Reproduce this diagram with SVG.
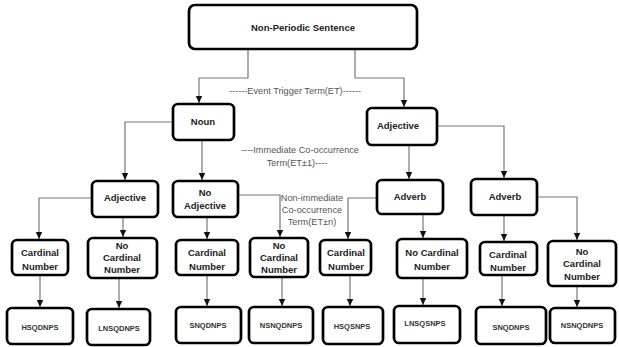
<svg xmlns="http://www.w3.org/2000/svg" width="619" height="347" viewBox="0 0 619 347">
<style>
.box{fill:#fff;stroke:#000;stroke-width:2.7}
.lbl{font-family:"Liberation Sans",Arial,sans-serif;font-weight:bold;font-size:9.5px;fill:#222;text-anchor:middle}
.leaf{font-family:"Liberation Sans",Arial,sans-serif;font-weight:bold;font-size:7.5px;fill:#333;text-anchor:middle}
.note{font-family:"Liberation Sans",Arial,sans-serif;font-size:9.2px;fill:#555;text-anchor:middle}
.con{fill:none;stroke:#777;stroke-width:1.2}
</style>
<defs>
<marker id="arr" markerUnits="userSpaceOnUse" markerWidth="8" markerHeight="8" refX="7" refY="4" orient="auto">
<path d="M0,0.8 L7,4 L0,7.2 Z" fill="#111"/>
</marker>
</defs>
<rect width="619" height="347" fill="#fff"/>
<g id="connectors">
<path class="con" marker-end="url(#arr)" d="M248 49 V78 H199 V103"/>
<path class="con" marker-end="url(#arr)" d="M355 49 V78 H404 V107"/>
<path class="con" marker-end="url(#arr)" d="M173 122 H125 V180"/>
<path class="con" marker-end="url(#arr)" d="M202 140 V180"/>
<path class="con" marker-end="url(#arr)" d="M409 145 V179"/>
<path class="con" marker-end="url(#arr)" d="M437 126 H504 V178"/>
<path class="con" marker-end="url(#arr)" d="M92 198 H39 V239"/>
<path class="con" marker-end="url(#arr)" d="M123 217 V237"/>
<path class="con" marker-end="url(#arr)" d="M207 217 V239"/>
<path class="con" marker-end="url(#arr)" d="M238 195 H280 V237"/>
<path class="con" marker-end="url(#arr)" d="M377 198 H348 V239"/>
<path class="con" marker-end="url(#arr)" d="M423 214 V238"/>
<path class="con" marker-end="url(#arr)" d="M504 215 V241"/>
<path class="con" marker-end="url(#arr)" d="M537 197 H577 V240"/>
<path class="con" marker-end="url(#arr)" d="M40 275 V307"/>
<path class="con" marker-end="url(#arr)" d="M119 278 V308"/>
<path class="con" marker-end="url(#arr)" d="M207 275 V306"/>
<path class="con" marker-end="url(#arr)" d="M282 277 V306"/>
<path class="con" marker-end="url(#arr)" d="M350 275 V306"/>
<path class="con" marker-end="url(#arr)" d="M423 278 V305"/>
<path class="con" marker-end="url(#arr)" d="M502 275 V306"/>
<path class="con" marker-end="url(#arr)" d="M577 286 V307"/>
</g>
<g id="notes">
<text class="note" x="295" y="94" font-size="9.6">------Event Trigger Term(ET)------</text>
<text class="note" x="300" y="153">----Immediate Co-occurrence</text>
<text class="note" x="297" y="166">Term(ET±1)----</text>
<text class="note" x="312" y="201" font-size="7.4">Non-immediate</text>
<text class="note" x="312" y="213" font-size="7.4">Co-occurrence</text>
<text class="note" x="312" y="225" font-size="7.4">Term(ET±n)</text>
</g>
<g id="root"><rect class="box" x="189" y="5" width="228" height="44" rx="6"/><text class="lbl" x="303" y="31" font-size="12.3">Non-Periodic Sentence</text></g>
<g id="noun"><rect class="box" x="173" y="104" width="61" height="36" rx="5"/><text class="lbl" x="203" y="125">Noun</text></g>
<g id="adjective"><rect class="box" x="367" y="108" width="70" height="37" rx="5"/><text class="lbl" x="398" y="129">Adjective</text></g>
<g id="noun-adjective"><rect class="box" x="92" y="181" width="66" height="36" rx="5"/><text class="lbl" x="125" y="201">Adjective</text></g>
<g id="noun-no-adjective"><rect class="box" x="173" y="181" width="65" height="36" rx="5"/><text class="lbl" x="205" y="196">No</text><text class="lbl" x="205" y="209">Adjective</text></g>
<g id="adverb1"><rect class="box" x="377" y="180" width="66" height="34" rx="5"/><text class="lbl" x="410" y="200">Adverb</text></g>
<g id="adverb2"><rect class="box" x="471" y="179" width="66" height="36" rx="5"/><text class="lbl" x="505" y="200">Adverb</text></g>
<g id="card1"><rect class="box" x="12" y="240" width="56" height="35" rx="5"/><text class="lbl" x="40" y="256">Cardinal</text><text class="lbl" x="40" y="270">Number</text></g>
<g id="nocard1"><rect class="box" x="88" y="238" width="69" height="40" rx="5"/><text class="lbl" x="122" y="249">No</text><text class="lbl" x="122" y="261">Cardinal</text><text class="lbl" x="122" y="273">Number</text></g>
<g id="card2"><rect class="box" x="176" y="240" width="62" height="35" rx="5"/><text class="lbl" x="207" y="256">Cardinal</text><text class="lbl" x="207" y="270">Number</text></g>
<g id="nocard2"><rect class="box" x="250" y="238" width="58" height="39" rx="5"/><text class="lbl" x="279" y="249">No</text><text class="lbl" x="279" y="261">Cardinal</text><text class="lbl" x="279" y="273">Number</text></g>
<g id="card3"><rect class="box" x="320" y="240" width="51" height="35" rx="5"/><text class="lbl" x="346" y="256">Cardinal</text><text class="lbl" x="346" y="270">Number</text></g>
<g id="nocard3"><rect class="box" x="397" y="239" width="70" height="39" rx="5"/><text class="lbl" x="432" y="256">No Cardinal</text><text class="lbl" x="432" y="270">Number</text></g>
<g id="card4"><rect class="box" x="480" y="242" width="57" height="33" rx="5"/><text class="lbl" x="508" y="258">Cardinal</text><text class="lbl" x="508" y="271">Number</text></g>
<g id="nocard4"><rect class="box" x="548" y="241" width="68" height="45" rx="5"/><text class="lbl" x="582" y="255">No</text><text class="lbl" x="582" y="267">Cardinal</text><text class="lbl" x="582" y="280">Number</text></g>
<g id="leaf1"><rect class="box" x="7" y="308" width="66" height="36" rx="5"/><text class="leaf" x="40" y="330">HSQDNPS</text></g>
<g id="leaf2"><rect class="box" x="87" y="309" width="63" height="36" rx="5"/><text class="leaf" x="119" y="331">LNSQDNPS</text></g>
<g id="leaf3"><rect class="box" x="176" y="307" width="65" height="36" rx="5"/><text class="leaf" x="208" y="328">SNQDNPS</text></g>
<g id="leaf4"><rect class="box" x="249" y="307" width="64" height="36" rx="5"/><text class="leaf" x="281" y="328">NSNQDNPS</text></g>
<g id="leaf5"><rect class="box" x="323" y="307" width="60" height="37" rx="5"/><text class="leaf" x="352" y="329">HSQSNPS</text></g>
<g id="leaf6"><rect class="box" x="394" y="306" width="66" height="37" rx="5"/><text class="leaf" x="425" y="326">LNSQSNPS</text></g>
<g id="leaf7"><rect class="box" x="476" y="307" width="70" height="37" rx="5"/><text class="leaf" x="511" y="330">SNQDNPS</text></g>
<g id="leaf8"><rect class="box" x="550" y="308" width="65" height="35" rx="5"/><text class="leaf" x="582" y="328">NSNQDNPS</text></g>
</svg>
